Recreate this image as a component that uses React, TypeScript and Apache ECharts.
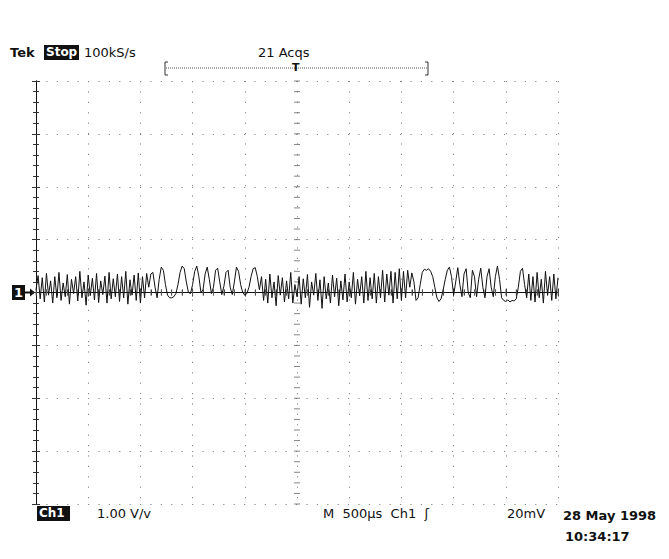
import React, { useEffect, useRef } from "react";
import * as echarts from "echarts";

// Time base: 500 µs/div, 10 divisions; vertical 1.00 V/div, 8 divisions
const X_MIN_US = 0;
const X_MAX_US = 5000;
const X_DIV_US = 500;
const Y_MIN_V = -4;
const Y_MAX_V = 4;
const SAMPLE_STEP_US = 20;

// Trace values (V), read left to right
const noiseStart = [
  0.05, 0.32, -0.12, 0.28, -0.18, 0.36, -0.05, 0.22, -0.2, 0.3,
  -0.1, 0.38, -0.15, 0.18, -0.08, 0.34, -0.22, 0.25, -0.02, 0.3,
  -0.16, 0.4, -0.1, 0.2, -0.24, 0.33, -0.06, 0.27, -0.14, 0.36,
  -0.19, 0.22, -0.04, 0.31, -0.2, 0.38, -0.12, 0.26, -0.08, 0.35,
  -0.17, 0.3, -0.1, 0.4, -0.22, 0.24, -0.05, 0.33, -0.15, 0.37,
  -0.2, 0.3, -0.1, 0.36,
];
const burstOne = [
  0.1, 0.35, 0.38, 0.1, -0.1, 0.25, 0.48, 0.42, 0.15, -0.05,
  -0.1, -0.1, -0.08, -0.02, 0.15, 0.38, 0.5, 0.45, 0.2, 0.0,
  -0.02, 0.15, 0.4, 0.5, 0.3, 0.0, 0.05, 0.35, 0.48, 0.25,
  -0.02, 0.1, 0.42, 0.46, 0.2, -0.04, 0.12, 0.38, 0.42, 0.1,
  -0.04, 0.2, 0.48, 0.4, 0.15, 0.0, -0.05, -0.02, 0.1, 0.3,
  0.45, 0.47, 0.3, 0.05,
];
const noiseMiddle = [
  0.3, -0.15, 0.25, -0.2, 0.35, -0.1, 0.2, -0.25, 0.32, -0.05,
  0.28, -0.18, 0.22, -0.12, 0.38, -0.2, 0.15, -0.08, 0.3, -0.22,
  0.26, -0.1, 0.34, -0.28, 0.2, -0.05, 0.36, -0.15, 0.24, -0.3,
  0.3, -0.12, 0.18, -0.2, 0.33, -0.08, 0.27, -0.25, 0.22, -0.14,
  0.35, -0.18, 0.2, -0.1, 0.38, -0.22, 0.25, -0.06, 0.3, -0.2,
  0.4, -0.15, 0.28, -0.12, 0.36, -0.2, 0.3, -0.1, 0.42, -0.18,
  0.35, -0.05, 0.4, -0.2, 0.38, -0.12, 0.45, -0.15, 0.4, -0.1,
  0.42,
];
const burstTwo = [
  0.1, 0.37, 0.2, -0.15, -0.1, 0.15, 0.38, 0.44, 0.42, 0.45,
  0.4, 0.3, 0.1, -0.1, -0.17, -0.12, 0.05, 0.25, 0.42, 0.48,
  0.3, -0.05, 0.2, 0.47, 0.15, -0.08, 0.35, 0.45, 0.0, -0.1,
  0.42, 0.3, -0.08, 0.25, 0.46, 0.1, -0.1, 0.3, 0.45, 0.1,
  -0.08, 0.3, 0.5, 0.25, -0.1, -0.15, -0.17, -0.14, -0.18, -0.15,
  -0.16, -0.12, 0.1, 0.4, 0.46, 0.15, -0.1, 0.35, -0.15,
];
const noiseEnd = [0.3, -0.18, 0.38, -0.1, 0.25, -0.2, 0.4, -0.05, 0.3, -0.15, 0.35, -0.12, 0.28];

const traceValues = [...noiseStart, ...burstOne, ...noiseMiddle, ...burstTwo, ...noiseEnd];

export default function App() {
  const ref = useRef<HTMLDivElement>(null);
  useEffect(() => {
    if (!ref.current) return;
    const chart = echarts.init(ref.current, undefined, { renderer: "svg" });
    const trace = traceValues.map((v, i) => [i * SAMPLE_STEP_US, v]);
    const hTicks: number[][] = [];
    for (let t = X_MIN_US; t <= X_MAX_US; t += X_DIV_US / 5) hTicks.push([t, 0]);
    const vTicks: number[][] = [];
    for (let k = Y_MIN_V * 5; k <= Y_MAX_V * 5; k++) vTicks.push([(X_MIN_US + X_MAX_US) / 2, k / 5]);

    const font = "'DejaVu Sans', sans-serif";
    const gridDot = { color: "#888", width: 1, type: [1.2, 9.2] as any };
    const baseX = {
      type: "value" as const,
      min: X_MIN_US,
      max: X_MAX_US,
      interval: X_DIV_US,
      axisLabel: { show: false },
      axisLine: { show: true, lineStyle: { color: "#111", width: 1 } },
      axisTick: { show: true, inside: true, length: 4, lineStyle: { color: "#333" } },
      minorTick: { show: true, splitNumber: 5, length: 3, lineStyle: { color: "#333" } },
      splitLine: { show: true, lineStyle: gridDot },
    };
    const baseY = {
      type: "value" as const,
      min: Y_MIN_V,
      max: Y_MAX_V,
      interval: 1,
      axisLabel: { show: false },
      axisLine: { show: true, lineStyle: { color: "#111", width: 1 } },
      axisTick: { show: true, inside: true, length: 4, lineStyle: { color: "#333" } },
      minorTick: { show: true, splitNumber: 5, length: 3, lineStyle: { color: "#333" } },
      splitLine: { show: true, lineStyle: gridDot },
    };

    chart.setOption({
      animation: false,
      backgroundColor: "#fff",
      grid: { left: 36, right: 111, top: 81, bottom: 55, containLabel: false },
      xAxis: [
        { ...baseX, position: "bottom" },
        { ...baseX, position: "top", splitLine: { show: false } },
      ],
      yAxis: [
        { ...baseY, position: "left" },
        { ...baseY, position: "right", splitLine: { show: false } },
      ],
      series: [
        {
          type: "scatter",
          data: hTicks,
          symbol: "rect",
          symbolSize: [1, 6],
          itemStyle: { color: "#666" },
          silent: true,
        },
        {
          type: "scatter",
          data: vTicks,
          symbol: "rect",
          symbolSize: [6, 1],
          itemStyle: { color: "#666" },
          silent: true,
        },
        {
          type: "line",
          data: trace,
          showSymbol: false,
          lineStyle: { color: "#111", width: 1 },
          silent: true,
        },
      ],
      graphic: [
        { type: "text", left: 10, top: 46, style: { text: "Tek", font: `bold 13px ${font}`, fill: "#111" } },
        { type: "rect", shape: { x: 44, y: 45, width: 35, height: 15 }, style: { fill: "#111" } },
        { type: "text", left: 46, top: 46, style: { text: "Stop", font: `bold 12px ${font}`, fill: "#fff" } },
        { type: "text", left: 84, top: 46, style: { text: "100kS/s", font: `13px ${font}`, fill: "#111" } },
        { type: "text", left: 258, top: 46, style: { text: "21 Acqs", font: `13px ${font}`, fill: "#111" } },
        { type: "line", shape: { x1: 166, y1: 68, x2: 427, y2: 68 }, style: { stroke: "#555", lineDash: [1, 1] } },
        { type: "polyline", shape: { points: [[168, 62], [165, 62], [165, 75], [168, 75]] }, style: { stroke: "#333", fill: "none" } },
        { type: "polyline", shape: { points: [[425, 62], [428, 62], [428, 75], [425, 75]] }, style: { stroke: "#333", fill: "none" } },
        { type: "text", left: 292, top: 62, style: { text: "T", font: `bold 11px ${font}`, fill: "#111" } },
        { type: "rect", shape: { x: 12, y: 285, width: 13, height: 15 }, style: { fill: "#111" } },
        { type: "text", left: 14, top: 286, style: { text: "1", font: `bold 13px ${font}`, fill: "#fff" } },
        { type: "line", shape: { x1: 25, y1: 292.5, x2: 34, y2: 292.5 }, style: { stroke: "#111", lineWidth: 2 } },
        { type: "polygon", shape: { points: [[30, 288.5], [35, 292.5], [30, 296.5]] }, style: { fill: "#111" } },
        { type: "rect", shape: { x: 37, y: 506, width: 33, height: 15 }, style: { fill: "#111" } },
        { type: "text", left: 39, top: 507, style: { text: "Ch1", font: `bold 12px ${font}`, fill: "#fff" } },
        { type: "text", left: 97, top: 507, style: { text: "1.00 V/v", font: `13px ${font}`, fill: "#111" } },
        { type: "text", left: 323, top: 507, style: { text: "M  500µs  Ch1  ʃ", font: `13px ${font}`, fill: "#111" } },
        { type: "text", left: 507, top: 507, style: { text: "20mV", font: `13px ${font}`, fill: "#111" } },
        { type: "text", left: 563, top: 509, style: { text: "28 May 1998", font: `bold 13px ${font}`, fill: "#111" } },
        { type: "text", left: 565, top: 530, style: { text: "10:34:17", font: `bold 13px ${font}`, fill: "#111" } },
      ],
    });
    return () => chart.dispose();
  }, []);
  return <div ref={ref} style={{ position: "absolute", left: 0, top: 0, width: 669, height: 559 }} />;
}
